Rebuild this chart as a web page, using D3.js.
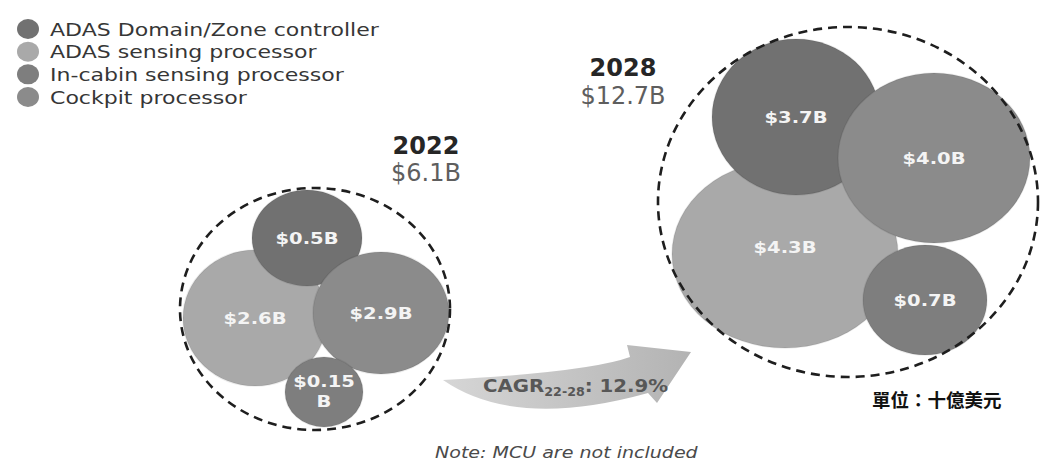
<!DOCTYPE html>
<html>
<head>
<meta charset="utf-8">
<script src="https://cdn.jsdelivr.net/npm/d3@7"></script>
<style>
  html, body { margin: 0; padding: 0; background: #fff; }
  svg { display: block; }
</style>
</head>
<body>
<div id="chart"></div>
<script>
/*
    Chart data
*/
var categories = [
    "ADAS Domain/Zone controller",
    "ADAS sensing processor",
    "In-cabin sensing processor",
    "Cockpit processor"
];
var years = ["2022", "2028"];
var yearTotals = [6.1, 12.7];
var values2022 = [0.5, 2.6, 0.15, 2.9];
var values2028 = [3.7, 4.3, 0.7, 4.0];
var cagrValue = 12.9;
var cagrPeriod = "22-28";
var noteText = "Note: MCU are not included";
var unitText = "單位：十億美元";

/*
    Styles / layout (kept apart from the data)
*/
var width = 1040;
var height = 461;
var palette = ["#717171", "#a9a9a9", "#7e7e7e", "#8b8b8b"];
var latinFont = "'DejaVu Sans', sans-serif";
var sx = 1.22; // horizontal stretch to mimic the wide original typeface

// bubble cluster frames (outer dashed ellipse)
var groupLayout = [
    { cx: 315, cy: 309, rx: 135, ry: 121, titleX: 426, titleY: 154, totalY: 181 },
    { cx: 848, cy: 202, rx: 190, ry: 175, titleX: 623, titleY: 76, totalY: 104 }
];
// bubble offsets from the cluster centre, one per category
var bubbleLayout = [
    [ { dx: -8, dy: -71, rx: 55, ry: 48 },
      { dx: -60, dy: 9, rx: 72, ry: 68 },
      { dx: 9, dy: 83, rx: 39, ry: 35 },
      { dx: 66, dy: 4, rx: 68, ry: 61 } ],
    [ { dx: -52, dy: -85, rx: 84, ry: 78 },
      { dx: -63, dy: 52, rx: 113, ry: 94, labelDy: -7 },
      { dx: 77, dy: 98, rx: 62, ry: 55 },
      { dx: 86, dy: -44, rx: 96, ry: 85 } ]
];
var drawOrder = [1, 0, 3, 2]; // sensing at the back, in-cabin on top

var colorScale = d3.scaleOrdinal()
    .domain(categories)
    .range(palette);

var svg = d3.select("#chart")
    .append("svg")
    .attr("width", width)
    .attr("height", height);

var defs = svg.append("defs");
var grad = defs.append("linearGradient")
    .attr("id", "arrowGrad")
    .attr("x1", "0%").attr("x2", "100%")
    .attr("y1", "0%").attr("y2", "0%");
grad.append("stop").attr("offset", "0%").attr("stop-color", "#d6d6d6");
grad.append("stop").attr("offset", "100%").attr("stop-color", "#b3b3b3");

/* stretched text helper */
function addText(parent, x, y, str, stretch) {
    return parent.append("text")
        .attr("transform", "translate(" + x + "," + y + ") scale(" + (stretch || sx) + ",1)")
        .style("font-family", latinFont)
        .text(str);
}

/*
    Legend
*/
var legendY = d3.scalePoint()
    .domain(categories)
    .range([29, 97]);

var legend = svg.append("g").attr("class", "legend");
categories.forEach(function (c) {
    legend.append("ellipse")
        .attr("cx", 28)
        .attr("cy", legendY(c))
        .attr("rx", 11)
        .attr("ry", 10)
        .attr("fill", colorScale(c));
    addText(legend, 50, legendY(c) + 6.5, c, 1.26)
        .style("font-size", "17.5px")
        .attr("fill", "#363636");
});

/*
    Arrow with CAGR
*/
var arrow = d3.path();
arrow.moveTo(443, 380);
arrow.quadraticCurveTo(589, 372, 630, 357);
arrow.lineTo(627, 345);
arrow.lineTo(691, 352);
arrow.lineTo(657, 403);
arrow.lineTo(648, 393);
arrow.quadraticCurveTo(515, 430, 443, 380);
arrow.closePath();
svg.append("path")
    .attr("d", arrow.toString())
    .attr("fill", "url(#arrowGrad)");

var cagr = svg.append("text")
    .attr("transform", "translate(483,392) scale(1.1,1)")
    .style("font-family", latinFont)
    .style("font-weight", "bold")
    .attr("fill", "#575757");
cagr.append("tspan").style("font-size", "18px").text("CAGR");
cagr.append("tspan").style("font-size", "11.5px").attr("dy", 4).text(cagrPeriod);
cagr.append("tspan").style("font-size", "18px").attr("dy", -4).text(": " + cagrValue + "%");

/*
    Bubble clusters
*/
var yearValues = [values2022, values2028];

function formatValue(v) {
    return v < 0.2 ? "$" + v : "$" + v.toFixed(1) + "B";
}

years.forEach(function (year, i) {
    var g = groupLayout[i];
    var x = d3.scaleLinear().domain([-1, 1]).range([g.cx - g.rx, g.cx + g.rx]);
    var y = d3.scaleLinear().domain([-1, 1]).range([g.cy - g.ry, g.cy + g.ry]);

    var grp = svg.append("g").attr("class", "cluster-" + year);

    var bubbles = drawOrder.map(function (k) {
        var b = bubbleLayout[i][k];
        return {
            category: categories[k],
            value: yearValues[i][k],
            cx: x(b.dx / g.rx),
            cy: y(b.dy / g.ry),
            rx: b.rx,
            ry: b.ry,
            labelDy: b.labelDy || 0
        };
    });

    grp.selectAll(".bubble")
        .data(bubbles)
        .enter().append("ellipse")
        .attr("class", "bubble")
        .attr("cx", function (d) { return d.cx; })
        .attr("cy", function (d) { return d.cy; })
        .attr("rx", function (d) { return d.rx; })
        .attr("ry", function (d) { return d.ry; })
        .attr("fill", function (d) { return colorScale(d.category); })
        .attr("stroke", "rgba(0,0,0,0.08)")
        .attr("stroke-width", 1.5);

    bubbles.forEach(function (d) {
        var label = formatValue(d.value);
        if (d.rx < 45) {
            // too small: wrap the unit onto a second line
            addText(grp, d.cx, d.cy - 5, label)
                .attr("text-anchor", "middle")
                .style("font-size", "16px")
                .style("font-weight", "bold")
                .attr("fill", "#f4f4f4");
            addText(grp, d.cx, d.cy + 15, "B")
                .attr("text-anchor", "middle")
                .style("font-size", "16px")
                .style("font-weight", "bold")
                .attr("fill", "#f4f4f4");
        } else {
            addText(grp, d.cx, d.cy + d.labelDy + 6, label)
                .attr("text-anchor", "middle")
                .style("font-size", "16px")
                .style("font-weight", "bold")
                .attr("fill", "#f4f4f4");
        }
    });

    // dashed outline of the whole year
    grp.append("ellipse")
        .attr("cx", g.cx)
        .attr("cy", g.cy)
        .attr("rx", g.rx)
        .attr("ry", g.ry)
        .attr("fill", "none")
        .attr("stroke", "#1e1e1e")
        .attr("stroke-width", 2.6)
        .attr("stroke-dasharray", "9 6");

    // year title + total
    svg.append("text")
        .attr("x", g.titleX)
        .attr("y", g.titleY)
        .attr("text-anchor", "middle")
        .style("font-family", latinFont)
        .style("font-size", "24px")
        .style("font-weight", "bold")
        .attr("fill", "#262626")
        .text(year);
    svg.append("text")
        .attr("x", g.titleX)
        .attr("y", g.totalY)
        .attr("text-anchor", "middle")
        .style("font-family", latinFont)
        .style("font-size", "24px")
        .attr("fill", "#5e5e5e")
        .text("$" + yearTotals[i] + "B");
});

/*
    Footnotes
*/
addText(svg, 435, 458, noteText, 1.19)
    .style("font-size", "16px")
    .style("font-style", "italic")
    .attr("fill", "#4a4a4a");

svg.append("text")
    .attr("x", 872)
    .attr("y", 407)
    .style("font-family", "'Noto Sans CJK TC', sans-serif")
    .style("font-size", "18.5px")
    .style("font-weight", "bold")
    .attr("fill", "#111")
    .text(unitText);
</script>
</body>
</html>
